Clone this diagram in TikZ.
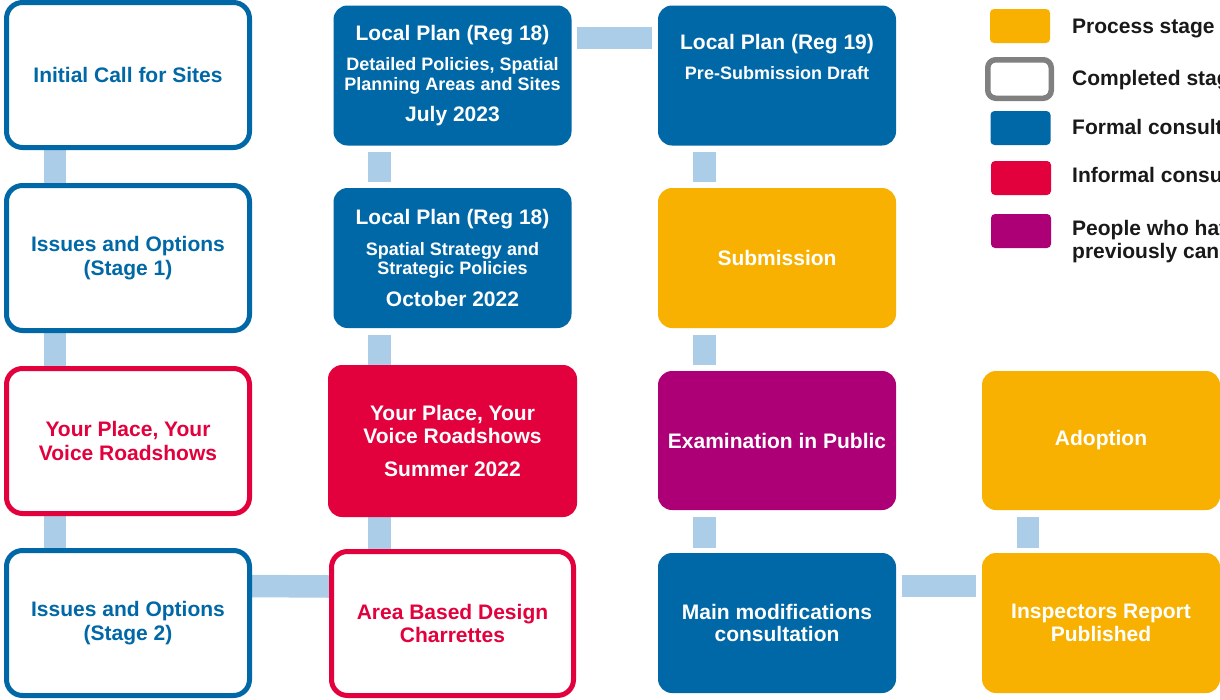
\documentclass[tikz,border=0pt]{standalone}
\usepackage{fontspec}
\setmainfont{Liberation Sans}
\usetikzlibrary{positioning,backgrounds}

\definecolor{cblue}{HTML}{0068A6}
\definecolor{cred}{HTML}{E2003D}
\definecolor{corange}{HTML}{F8B100}
\definecolor{cpurple}{HTML}{AD0077}
\definecolor{cgrey}{HTML}{808080}
\definecolor{clink}{HTML}{ABCDE8}

\newcommand{\ttl}{\fontsize{21}{23.5}\selectfont\bfseries}
\newcommand{\sbt}{\fontsize{18}{19.5}\selectfont\bfseries}

\begin{document}
\begin{tikzpicture}[x=1pt, y=-1pt,
  every node/.style={font=\ttl},
  box/.style={rectangle, rounded corners=14pt, minimum width=238pt, minimum height=140pt, align=center, inner sep=0pt},
  stagefill/.style={box, fill=#1, text=white},
  stageline/.style={box, draw=#1, fill=white, text=#1, line width=5pt, minimum width=243pt, minimum height=145pt, rounded corners=16pt},
  key/.style={rectangle, rounded corners=4pt, minimum width=60pt, minimum height=34pt, inner sep=0pt},
  keytext/.style={anchor=base west, inner sep=0pt, text=black!90, align=left},
  link/.style={draw=clink, line width=22.5pt, shorten <=6pt, shorten >=6pt},
  tight/.style={shorten <=0pt, shorten >=0pt}]
\path[use as bounding box, clip] (0,0) rectangle (1220,699);

% first column, completed stages
\node[stageline=cblue] (call) at (128,75) {Initial Call for Sites};
\node[stageline=cblue] (io1) at (128,258) {Issues and Options\\(Stage 1)};
\node[stageline=cred] (yp1) at (128,441) {Your Place, Your\\Voice Roadshows};
\node[stageline=cblue] (io2) at (128,623) {Issues and Options\\(Stage 2)};

% second column
\node[stagefill=cblue] (reg18b) at (452.5,75.5) {Local Plan (Reg 18)\\[7.2pt]\sbt Detailed Policies, Spatial\\[-4.2pt]\sbt Planning Areas and Sites\\[7.8pt]July 2023};
\node[stagefill=cblue] (reg18a) at (452.5,258) {Local Plan (Reg 18)\\[7.2pt]\sbt Spatial Strategy and\\[-4.2pt]\sbt Strategic Policies\\[7.8pt]October 2022};
\node[stagefill=cred, minimum width=249pt, minimum height=152pt] (yp2) at (452.5,441) {Your Place, Your\\[-0.8pt]Voice Roadshows\\[9.8pt]Summer 2022};
\node[stageline=cred, minimum width=242pt, minimum height=144pt] (abd) at (452.5,623.5) {Area Based Design\\[-1pt]Charrettes};

% third column
\node[stagefill=cblue] (reg19) at (777,75.5) {Local Plan (Reg 19)\\[6.5pt]\sbt Pre-Submission Draft\\[8.5pt]\sbt\strut};
\node[stagefill=corange] (sub) at (777,258) {Submission};
\node[stagefill=cpurple, minimum height=139pt] (eip) at (777,440.5) {Examination in Public};
\node[stagefill=cblue] (mm) at (777,623) {Main modifications\\[-1pt]consultation};

% fourth column
\node[stagefill=corange, minimum height=139pt] (adopt) at (1101,440.5) {Adoption};
\node[stagefill=corange] (insp) at (1101,623) {Inspectors Report\\[-1pt]Published};

% key
\node[key, fill=corange] (kproc) at (1020,26) {};
\node[key, draw=cgrey, line width=5.5pt, minimum width=63.5pt, minimum height=38.5pt, rounded corners=8pt] (kdone) at (1019.5,79) {};
\node[key, fill=cblue] (kform) at (1020.5,128) {};
\node[key, fill=cred] (kinf) at (1021,178) {};
\node[key, fill=cpurple] (kppl) at (1021,231) {};
\node[keytext] (tproc) at (1072,33.3) {Process stage};
\node[keytext] (tdone) at (1072,85) {Completed stage};
\node[keytext] (tform) at (1072,134) {Formal consultation};
\node[keytext] (tinf) at (1072,182) {Informal consultation};
\node[keytext] (tppl) at (1072,258) {People who have\\[-0.5pt]previously can};

\begin{scope}[on background layer]
\draw[link, tight] ([xshift=-73pt]call.south) -- ([xshift=-73pt]io1.north);
\draw[link, tight] ([xshift=-73pt]io1.south) -- ([xshift=-73pt]yp1.north);
\draw[link, tight] ([xshift=-73pt]yp1.south) -- ([xshift=-73pt]io2.north);
\draw[link, tight] ([yshift=37pt]io2.east) -- ([yshift=37pt]abd.west);
\draw[link] ([xshift=-73pt]reg18b.south) -- ([xshift=-73pt]reg18a.north);
\draw[link, shorten >=0pt, shorten <=7pt] ([xshift=-73pt]reg18a.south) -- ([xshift=-73pt]yp2.north);
\draw[link, tight] ([xshift=-73pt]yp2.south) -- ([xshift=-73pt]abd.north);
\draw[link, shorten <=5pt] ([yshift=37.5pt]reg18b.east) -- ([yshift=37.5pt]reg19.west);
\draw[link] ([xshift=-72.5pt]reg19.south) -- ([xshift=-72.5pt]sub.north);
\draw[link, shorten <=7pt] ([xshift=-72.5pt]sub.south) -- ([xshift=-72.5pt]eip.north);
\draw[link, shorten <=7pt, shorten >=5pt] ([xshift=-72.5pt]eip.south) -- ([xshift=-72.5pt]mm.north);
\draw[link] ([yshift=37pt]mm.east) -- ([yshift=37pt]insp.west);
\draw[link, shorten <=7pt, shorten >=5pt] ([xshift=-73pt]adopt.south) -- ([xshift=-73pt]insp.north);
\end{scope}
\end{tikzpicture}
\end{document}
